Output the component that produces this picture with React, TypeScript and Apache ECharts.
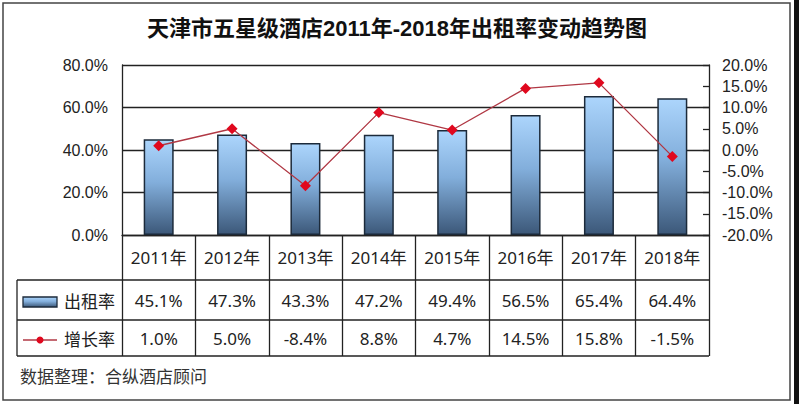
import React, { useEffect, useRef } from 'react';
import * as echarts from 'echarts';

const titleText = '天津市五星级酒店2011年-2018年出租率变动趋势图';
const sourceText = '数据整理：合纵酒店顾问';
const seriesNames = ['出租率', '增长率'];
const categories = ['2011年', '2012年', '2013年', '2014年', '2015年', '2016年', '2017年', '2018年'];
const occupancyRate = [45.1, 47.3, 43.3, 47.2, 49.4, 56.5, 65.4, 64.4];
const growthRate = [1.0, 5.0, -8.4, 8.8, 4.7, 14.5, 15.8, -1.5];
const leftTicks = [0, 20, 40, 60, 80];
const rightTicks = [-20, -15, -10, -5, 0, 5, 10, 15, 20];

export default function App() {
  const ref = useRef<HTMLDivElement>(null);
  useEffect(() => {
    const chart = echarts.init(ref.current!, null, { renderer: 'svg' });
    const L = 122, R = 709, T = 65, B = 235;
    const rowA = 280, rowB = 320, rowC = 356;
    const tableLeft = 17;
    const cjk = '"Noto Sans", "Noto Sans CJK SC", sans-serif';
    const arial = '"Liberation Sans", Arial, sans-serif';
    const titleFont = '"Liberation Sans", "Noto Sans CJK SC", sans-serif';
    const lineColor = '#222';
    const barGrad = () =>
      new echarts.graphic.LinearGradient(0, 0, 0, 1, [
        { offset: 0, color: '#acd5fc' },
        { offset: 0.45, color: '#82aedb' },
        { offset: 1, color: '#3c5879' },
      ]);
    const pct = (v: number) => v.toFixed(1) + '%';

    const hLine = (y: number) => ({
      type: 'line',
      shape: { x1: tableLeft, y1: y, x2: R, y2: y },
      style: { stroke: lineColor, lineWidth: 1.3 },
      silent: true,
    });

    const option: any = {
      animation: false,
      backgroundColor: '#fff',
      grid: { left: L, right: 800 - R, top: T, bottom: 404 - B, outerBoundsMode: 'none', containLabel: false },
      xAxis: [
        {
          type: 'category',
          data: categories,
          position: 'bottom',
          boundaryGap: true,
          axisLine: { show: true, lineStyle: { color: lineColor, width: 1.3 } },
          axisTick: { show: true, length: rowC - B, interval: 0, lineStyle: { color: lineColor, width: 1.3 } },
          axisLabel: {
            interval: 0,
            margin: 22,
            verticalAlign: 'middle',
            fontFamily: cjk,
            fontSize: 17,
            color: '#222',
          },
        },
        {
          type: 'category',
          data: categories,
          position: 'bottom',
          boundaryGap: true,
          axisLine: { show: false },
          axisTick: { show: false },
          axisLabel: {
            interval: 0,
            margin: 65,
            verticalAlign: 'middle',
            fontFamily: cjk,
            fontSize: 17,
            color: '#222',
            formatter: (_v: string, i: number) => pct(occupancyRate[i]),
          },
        },
        {
          type: 'category',
          data: categories,
          position: 'bottom',
          boundaryGap: true,
          axisLine: { show: false },
          axisTick: { show: false },
          axisLabel: {
            interval: 0,
            margin: 103,
            verticalAlign: 'middle',
            fontFamily: cjk,
            fontSize: 17,
            color: '#222',
            formatter: (_v: string, i: number) => pct(growthRate[i]),
          },
        },
      ],
      yAxis: [
        {
          type: 'value',
          position: 'left',
          min: leftTicks[0],
          max: leftTicks[leftTicks.length - 1],
          interval: leftTicks[1] - leftTicks[0],
          axisLine: { show: true, lineStyle: { color: lineColor, width: 1.3 } },
          axisTick: { show: false },
          splitLine: { show: true, lineStyle: { color: lineColor, width: 1.3 } },
          axisLabel: { margin: 14, fontFamily: arial, fontSize: 16, color: '#222', formatter: (v: number) => pct(v) },
        },
        {
          type: 'value',
          position: 'right',
          min: rightTicks[0],
          max: rightTicks[rightTicks.length - 1],
          interval: rightTicks[1] - rightTicks[0],
          axisLine: { show: true, lineStyle: { color: lineColor, width: 1.3 } },
          axisTick: { show: true, inside: true, length: 6, lineStyle: { color: lineColor, width: 1.3 } },
          splitLine: { show: false },
          axisLabel: { margin: 13, fontFamily: arial, fontSize: 16, color: '#222', formatter: (v: number) => pct(v) },
        },
      ],
      series: [
        {
          name: seriesNames[0],
          type: 'bar',
          xAxisIndex: 0,
          yAxisIndex: 0,
          data: occupancyRate,
          barWidth: 30,
          itemStyle: { color: barGrad(), borderColor: '#1c2a3a', borderWidth: 1.5 },
          z: 2,
        },
        {
          name: seriesNames[1],
          type: 'line',
          xAxisIndex: 0,
          yAxisIndex: 1,
          data: growthRate,
          symbol: 'diamond',
          symbolSize: 11,
          lineStyle: { color: '#b03844', width: 1.3 },
          itemStyle: { color: '#e0081e' },
          z: 5,
        },
      ],
      graphic: [
        {
          type: 'rect',
          shape: { x: 3, y: 3, width: 787, height: 397 },
          style: { fill: 'none', stroke: '#444', lineWidth: 1.5 },
          silent: true,
        },
        {
          type: 'rect',
          shape: { x: 794, y: 0, width: 5, height: 404 },
          style: { fill: '#111' },
          silent: true,
        },
        {
          type: 'text',
          x: 397,
          y: 28,
          style: {
            text: titleText,
            fontFamily: titleFont,
            fontSize: 22,
            fontWeight: 'bold',
            fill: '#111',
            align: 'center',
            verticalAlign: 'middle',
          },
        },
        hLine(rowA),
        hLine(rowB),
        hLine(rowC),
        {
          type: 'line',
          shape: { x1: tableLeft, y1: rowA, x2: tableLeft, y2: rowC },
          style: { stroke: lineColor, lineWidth: 1.3 },
          silent: true,
        },
        {
          type: 'rect',
          shape: { x: 23, y: 297, width: 34, height: 10 },
          style: { fill: barGrad(), stroke: '#1c2a3a', lineWidth: 1.3 },
        },
        {
          type: 'text',
          x: 64,
          y: 301,
          style: { text: seriesNames[0], fontFamily: cjk, fontSize: 17, fill: '#222', align: 'left', verticalAlign: 'middle' },
        },
        {
          type: 'line',
          shape: { x1: 23, y1: 340, x2: 57, y2: 340 },
          style: { stroke: '#b03844', lineWidth: 1.3 },
        },
        {
          type: 'circle',
          shape: { cx: 40, cy: 340, r: 3.5 },
          style: { fill: '#e0081e' },
        },
        {
          type: 'text',
          x: 64,
          y: 339,
          style: { text: seriesNames[1], fontFamily: cjk, fontSize: 17, fill: '#222', align: 'left', verticalAlign: 'middle' },
        },
        {
          type: 'text',
          x: 20,
          y: 376,
          style: { text: sourceText, fontFamily: cjk, fontSize: 17, fill: '#333', align: 'left', verticalAlign: 'middle' },
        },
      ],
    };
    chart.setOption(option);
    return () => chart.dispose();
  }, []);
  return (
    <div
      ref={ref}
      style={{ position: 'fixed', left: 0, top: 0, width: 800, height: 404, background: '#fff' }}
    />
  );
}
